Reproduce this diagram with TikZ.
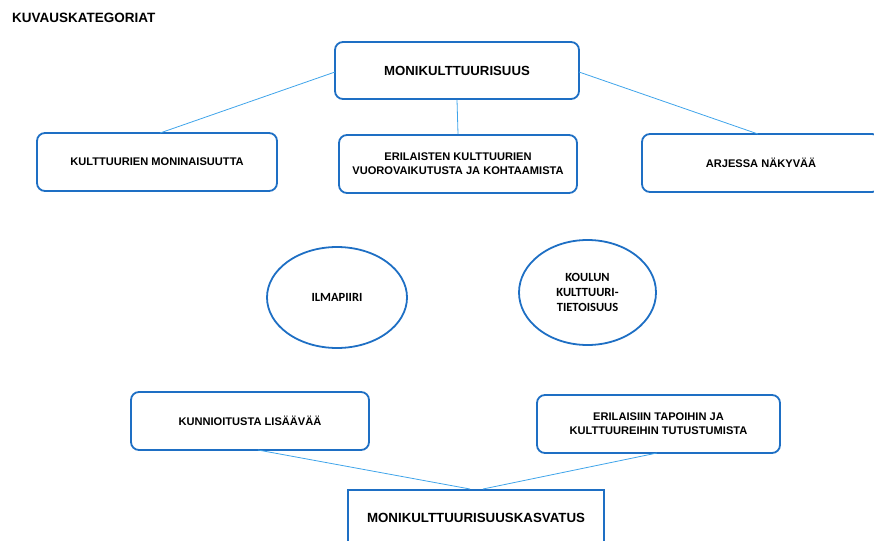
\documentclass[tikz,border=0pt]{standalone}
\usepackage{fontspec}
\setmainfont{Liberation Sans}
\newfontfamily\calfont{Carlito}
\usetikzlibrary{shapes.geometric}
\definecolor{boxblue}{HTML}{1E6FC4}
\definecolor{lineblue}{HTML}{3FA4EA}
\begin{document}
\begin{tikzpicture}[x=1pt,y=-1pt,
  rbox/.style={draw=boxblue,line width=1.8pt,rounded corners=8pt,fill=white,inner sep=0pt,align=center,font=\bfseries\fontsize{11.1}{14}\selectfont},
  ell/.style={ellipse,draw=boxblue,line width=1.8pt,inner sep=0pt,align=center,font=\calfont\bfseries\fontsize{12.5}{15}\selectfont},
  conn/.style={draw=lineblue,line width=0.8pt}]
\useasboundingbox (0,0) rectangle (874,540);
\node[anchor=west,inner sep=0pt,font=\bfseries\fontsize{13.5}{16}\selectfont] (title) at (12,18) {KUVAUSKATEGORIAT};
% top
\node[rbox,minimum width=244pt,minimum height=57pt,font=\bfseries\fontsize{13.2}{16}\selectfont] (moni) at (457,70.5) {MONIKULTTUURISUUS};
\node[rbox,minimum width=240pt,minimum height=58pt] (kult) at (157,162) {KULTTUURIEN MONINAISUUTTA};
\node[rbox,minimum width=238pt,minimum height=58pt] (eril) at (458,164) {ERILAISTEN KULTTUURIEN\\VUOROVAIKUTUSTA JA KOHTAAMISTA};
\node[rbox,minimum width=238pt,minimum height=58pt] (arj) at (761,163) {ARJESSA NÄKYVÄÄ};
\coordinate (mL) at (335,72);
\coordinate (mR) at (579,72);
\coordinate (kT) at (160,133);
\coordinate (aT) at (758,134);
\draw[conn] (mL) -- (kT);
\draw[conn] (moni.south) -- (eril.north);
\draw[conn] (mR) -- (aT);
% ellipses
\node[ell,minimum width=140pt,minimum height=101pt] (ilma) at (337,297.5) {ILMAPIIRI};
\node[ell,minimum width=137pt,minimum height=105pt] (koul) at (587.5,292.5) {KOULUN\\KULTTUURI-\\TIETOISUUS};
% bottom
\node[rbox,minimum width=238pt,minimum height=58pt] (kunn) at (250,421) {KUNNIOITUSTA LISÄÄVÄÄ};
\node[rbox,minimum width=243pt,minimum height=58pt] (erls) at (658.5,424) {ERILAISIIN TAPOIHIN JA\\KULTTUUREIHIN TUTUSTUMISTA};
\node[draw=boxblue,line width=1.5pt,minimum width=256pt,minimum height=70pt,anchor=north,fill=white] (kasv) at (476,489) {};
\node[font=\bfseries\fontsize{13.3}{16}\selectfont] (kasvt) at (476,518) {MONIKULTTUURISUUSKASVATUS};
\coordinate (kB) at (258,450);
\coordinate (eB) at (657,453);
\coordinate (k1) at (470,489);
\coordinate (k2) at (483,489);
\draw[conn] (kB) -- (k1);
\draw[conn] (eB) -- (k2);
\end{tikzpicture}
\end{document}
